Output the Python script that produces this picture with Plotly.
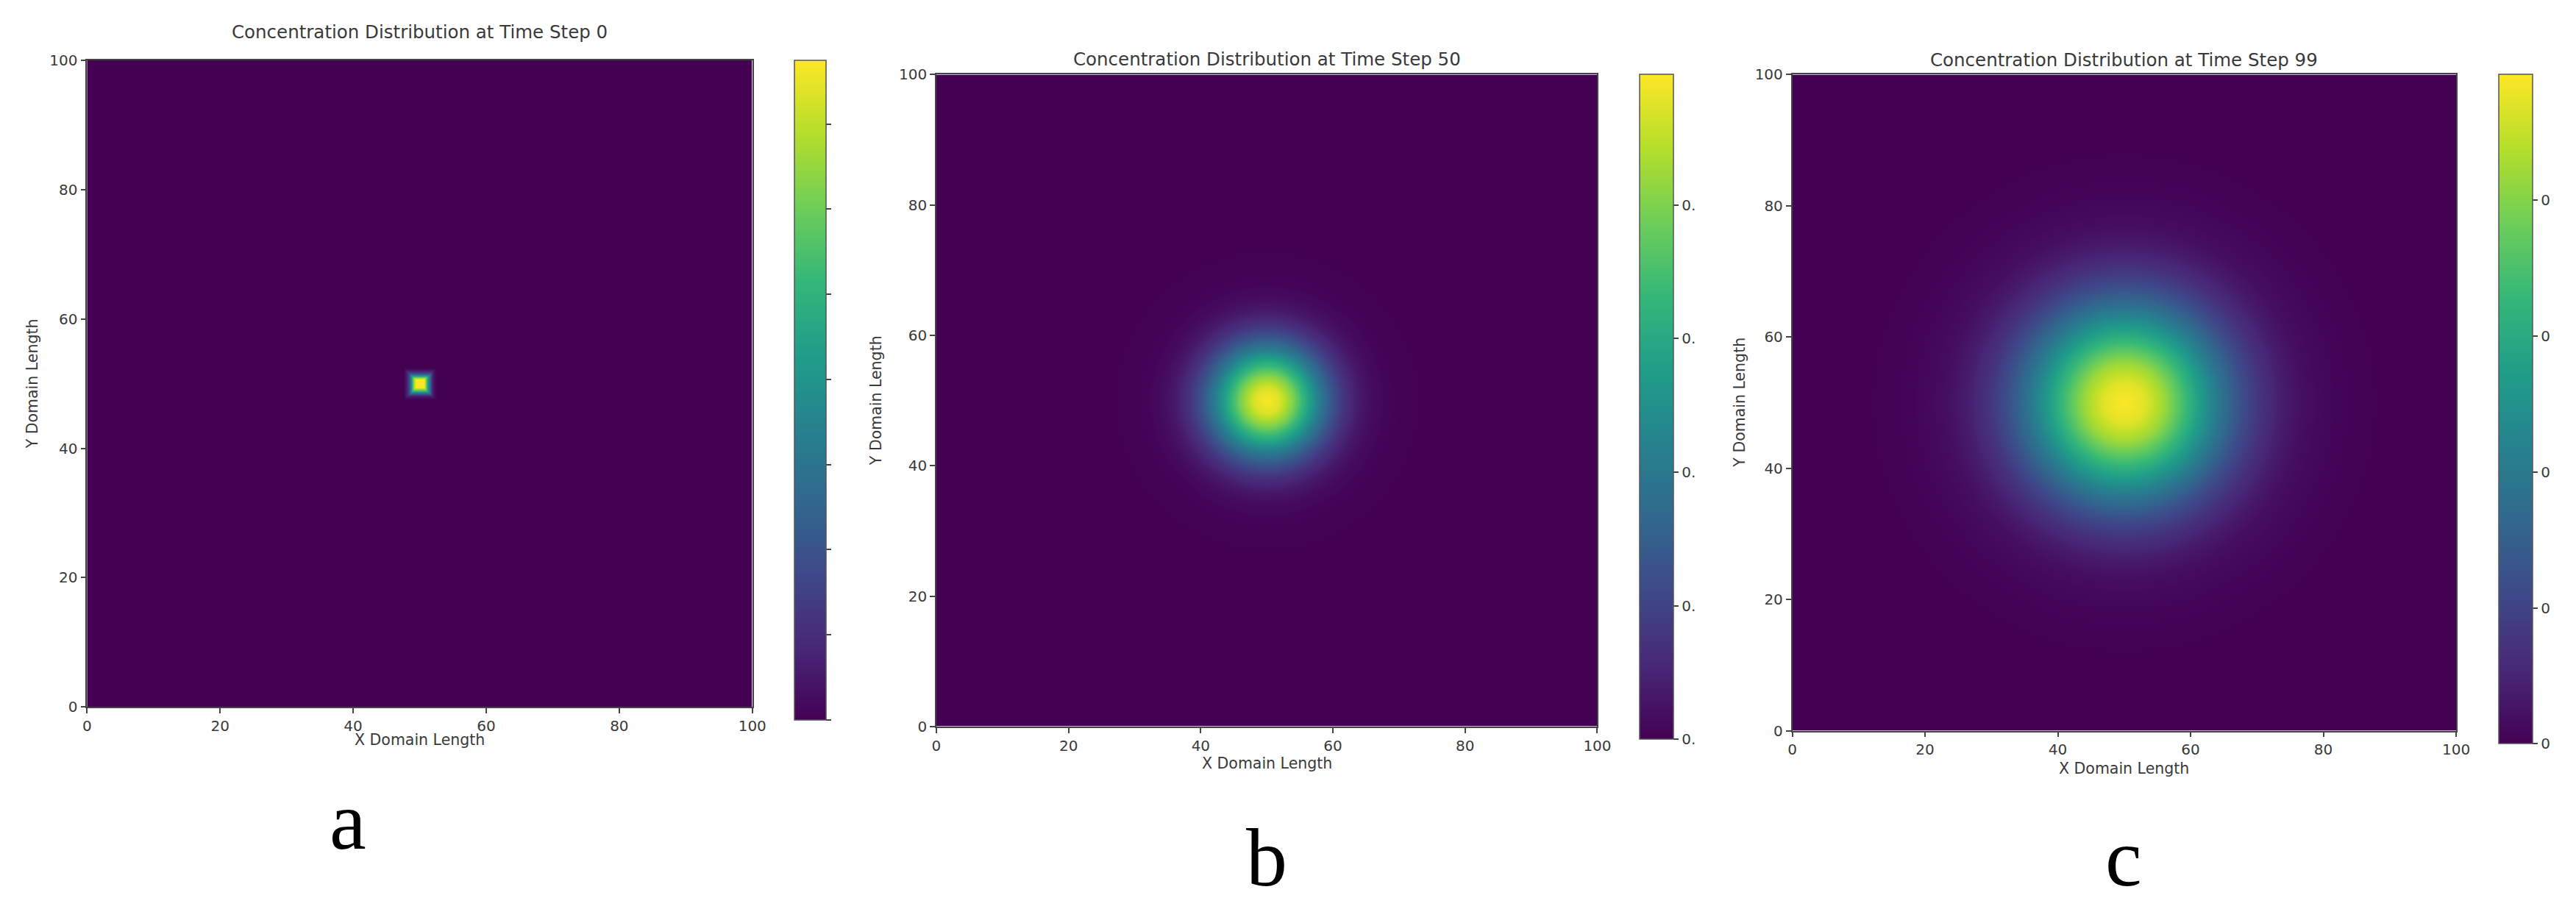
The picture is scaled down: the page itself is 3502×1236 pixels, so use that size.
import numpy as np
import plotly.graph_objects as go

W, H = 3502, 1236

# ---- data ----
panel_titles = ["Concentration Distribution at Time Step 0",
                "Concentration Distribution at Time Step 50",
                "Concentration Distribution at Time Step 99"]
panel_letters = ["a", "b", "c"]
x_ticks = [0, 20, 40, 60, 80, 100]
y_ticks = [0, 20, 40, 60, 80, 100]
source_center = [50, 50]

# radial profiles of concentration (fraction of the peak) vs distance from source
radius_a = [0, 0.7, 1.0, 1.4, 1.8, 2.4, 60]
level_a = [1.0, 1.0, 0.75, 0.40, 0.12, 0.0, 0.0]
radius_b = [0, 2, 4, 6, 8, 10, 12, 14, 16, 18, 20, 25, 80]
level_b = [1.0, 0.946, 0.80, 0.607, 0.41, 0.25, 0.135, 0.066, 0.029, 0.011, 0.004, 0.0, 0.0]
radius_c = [0, 3, 6, 9, 12, 15, 18, 21, 24, 27, 30, 35, 40, 80]
level_c = [1.0, 0.96, 0.85, 0.69, 0.52, 0.36, 0.23, 0.135, 0.073, 0.037, 0.017, 0.004, 0.0, 0.0]

peak_values = [0.0775, 0.0199, 0.00985]
cbar_tick_steps = [0.01, 0.004, 0.002]
cbar_tick_counts = [8, 5, 5]
cbar_tick_text = ["", "0.", "0"]

# ---- layout in window pixels ----
plots_px = [(105, 1016, 63, 960), (1268, 2173, 83, 987), (2440, 3349, 83, 993)]
cbars_px = [(1074, 1117), (2231, 2277), (3407, 3453)]
title_y = [24, 62, 63]
xlabel_y = [1006, 1038, 1045]
ylabel_x = [30, 1185, 2367]
letter_xy = [(462, 1183), (1720, 1234), (2894, 1234)]   # bottom of text box

def px_x(p):
    return p / W

def px_y(p):
    return 1 - p / H

fig = go.Figure()
profiles = [(radius_a, level_a, 0.25, True), (radius_b, level_b, 0.5, False), (radius_c, level_c, 0.5, False)]
text_col = "#3a3a3a"
annotations = []

for i in range(3):
    rad, lev, step, square = profiles[i]
    xs = np.arange(step / 2, 100, step)
    X, Y = np.meshgrid(xs, xs)
    dx = X - source_center[0]
    dy = Y - source_center[1]
    if square:
        r = np.maximum(np.abs(dx), np.abs(dy))
    else:
        r = np.hypot(dx, dy)
    z = np.round(np.interp(r, rad, lev) * peak_values[i], 7)
    x0, x1, y0, y1 = plots_px[i]
    cx0, cx1 = cbars_px[i]
    n = cbar_tick_counts[i]
    tv = [k * cbar_tick_steps[i] for k in range(n)]
    fig.add_trace(go.Heatmap(
        x=xs, y=xs, z=z, colorscale="Viridis", zmin=0, zmax=peak_values[i],
        zsmooth="best", xaxis=f"x{i+1}" if i else "x", yaxis=f"y{i+1}" if i else "y",
        hoverinfo="skip",
        colorbar=dict(
            x=px_x(cx0), xanchor="left", xref="paper",
            y=px_y(y0), yanchor="top", yref="paper",
            len=y1 - y0, lenmode="pixels", thickness=cx1 - cx0, thicknessmode="pixels",
            xpad=0, ypad=0, outlinewidth=1.5, outlinecolor="#555",
            tickmode="array", tickvals=tv, ticktext=[cbar_tick_text[i]] * n,
            ticks="outside", ticklen=7, tickcolor="#444", tickwidth=1.5,
            showticklabels=bool(cbar_tick_text[i]),
            tickfont=dict(family="DejaVu Sans", size=20, color=text_col),
        ),
    ))
    ax = dict(range=[0, 100], tickmode="array", tickvals=x_ticks,
              ticks="outside", ticklen=7, tickwidth=1.5, tickcolor="#444",
              showline=True, linecolor="#444", linewidth=1.5, mirror=True,
              showgrid=False, zeroline=False,
              tickfont=dict(family="DejaVu Sans", size=20, color=text_col))
    xa = dict(ax, domain=[px_x(x0), px_x(x1)], anchor=f"y{i+1}" if i else "y")
    ya = dict(ax, tickvals=y_ticks, domain=[px_y(y1), px_y(y0)], anchor=f"x{i+1}" if i else "x")
    fig.update_layout(**{f"xaxis{i+1 if i else ''}": xa, f"yaxis{i+1 if i else ''}": ya})

    annotations.append(dict(text=panel_titles[i], x=px_x((x0 + x1) / 2), y=px_y(title_y[i]),
                            xref="paper", yref="paper", showarrow=False, xanchor="center", yanchor="middle",
                            font=dict(family="DejaVu Sans", size=24.5, color=text_col)))
    annotations.append(dict(text="X Domain Length", x=px_x((x0 + x1) / 2), y=px_y(xlabel_y[i]),
                            xref="paper", yref="paper", showarrow=False, xanchor="center", yanchor="middle",
                            font=dict(family="DejaVu Sans", size=20.5, color=text_col)))
    annotations.append(dict(text="Y Domain Length", x=px_x(ylabel_x[i]), y=px_y((y0 + y1) / 2),
                            xref="paper", yref="paper", showarrow=False, xanchor="center", yanchor="middle",
                            textangle=-90,
                            font=dict(family="DejaVu Sans", size=20.5, color=text_col)))
    lx, ly = letter_xy[i]
    annotations.append(dict(text=panel_letters[i], x=px_x(lx), y=px_y(ly),
                            xref="paper", yref="paper", showarrow=False, xanchor="center", yanchor="bottom",
                            font=dict(family="Liberation Serif", size=112, color="black")))

fig.update_layout(width=W, height=H, margin=dict(l=0, r=0, t=0, b=0),
                  paper_bgcolor="white", plot_bgcolor="white",
                  annotations=annotations, showlegend=False)
fig.write_html("out.html")
